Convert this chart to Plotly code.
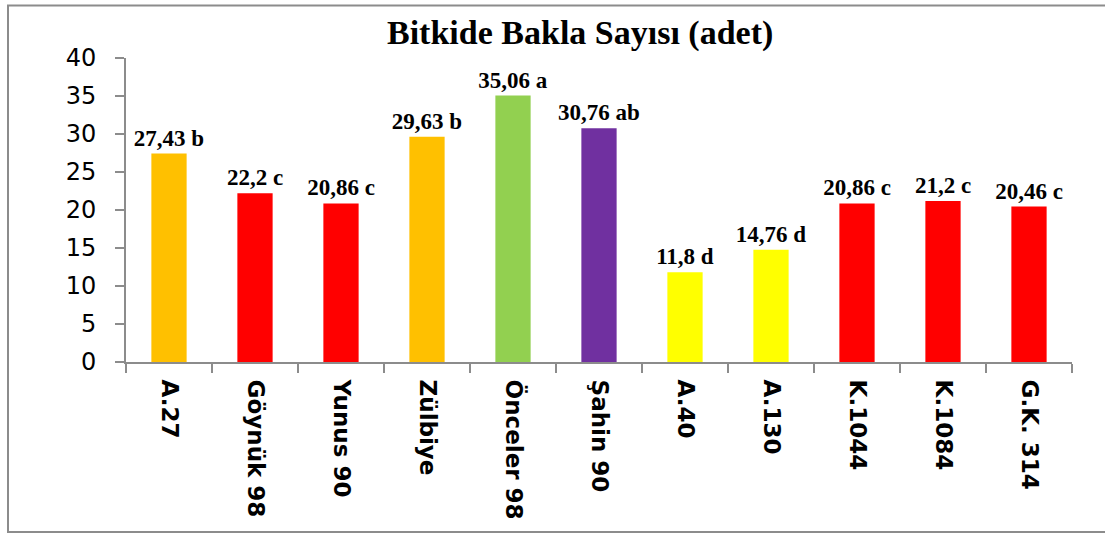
import plotly.graph_objects as go

categories = ["A.27", "Göynük 98", "Yunus 90", "Zülbiye", "Önceler 98", "Şahin 90",
              "A.40", "A.130", "K.1044", "K.1084", "G.K. 314"]
values = [27.43, 22.2, 20.86, 29.63, 35.06, 30.76, 11.8, 14.76, 20.86, 21.2, 20.46]
letters = ["b", "c", "c", "b", "a", "ab", "d", "d", "c", "c", "c"]
bar_colors = ["#FFC000", "#FF0000", "#FF0000", "#FFC000", "#92D050", "#7030A0",
              "#FFFF00", "#FFFF00", "#FF0000", "#FF0000", "#FF0000"]
y_ticks = [0, 5, 10, 15, 20, 25, 30, 35, 40]
title_text = "Bitkide Bakla Sayısı (adet)"

labels = [f"{v:g}".replace(".", ",") + " " + l for v, l in zip(values, letters)]

W, H = 1105, 533
L, R, T, B = 126, 33, 58, 171
pw, ph = W - L - R, H - T - B

def px_x(px):
    return (px - L) / pw

def px_y(py):
    return (H - B - py) / ph

fig = go.Figure(go.Bar(
    x=categories, y=values, marker_color=bar_colors, marker_line_width=0,
    text=labels, textposition="outside", cliponaxis=False, constraintext="none",
    textfont=dict(family="Liberation Serif", size=23, color="black", weight="bold"),
))

fig.update_layout(
    width=W, height=H, margin=dict(l=L, r=R, t=T, b=B, autoexpand=False),
    paper_bgcolor="white", plot_bgcolor="white",
    bargap=0.59, showlegend=False,
)
fig.update_xaxes(
    type="category", tickson="boundaries", ticks="outside", ticklen=9, tickwidth=2,
    tickcolor="#8c8c8c", showline=True, linecolor="#8c8c8c", linewidth=2,
    tickangle=90, showgrid=False, automargin=False, ticklabelstandoff=11,
    tickfont=dict(family="DejaVu Sans", size=23, color="black", weight="bold"),
)
fig.update_yaxes(
    range=[0, 40], tickvals=y_ticks, ticks="outside", ticklen=9, tickwidth=2,
    tickcolor="#8c8c8c", showline=True, linecolor="#8c8c8c", linewidth=2,
    showgrid=False, zeroline=False, automargin=False, ticklabelstandoff=14,
    tickfont=dict(family="DejaVu Sans", size=24, color="black"),
)
fig.add_annotation(
    text=title_text, xref="paper", yref="paper", x=px_x(580), y=px_y(33),
    xanchor="center", yanchor="middle", showarrow=False,
    font=dict(family="Liberation Serif", size=34, color="black", weight="bold"),
)
fig.add_shape(
    type="rect", xref="paper", yref="paper",
    x0=px_x(8), x1=px_x(1120), y0=px_y(532), y1=px_y(5.5),
    line=dict(color="#8c8c8c", width=2), fillcolor="rgba(0,0,0,0)", layer="below",
)

fig.write_html(
    "out.html",
    config={"displayModeBar": False},
    post_script="document.body.style.margin='0';document.body.style.overflow='hidden';",
)
